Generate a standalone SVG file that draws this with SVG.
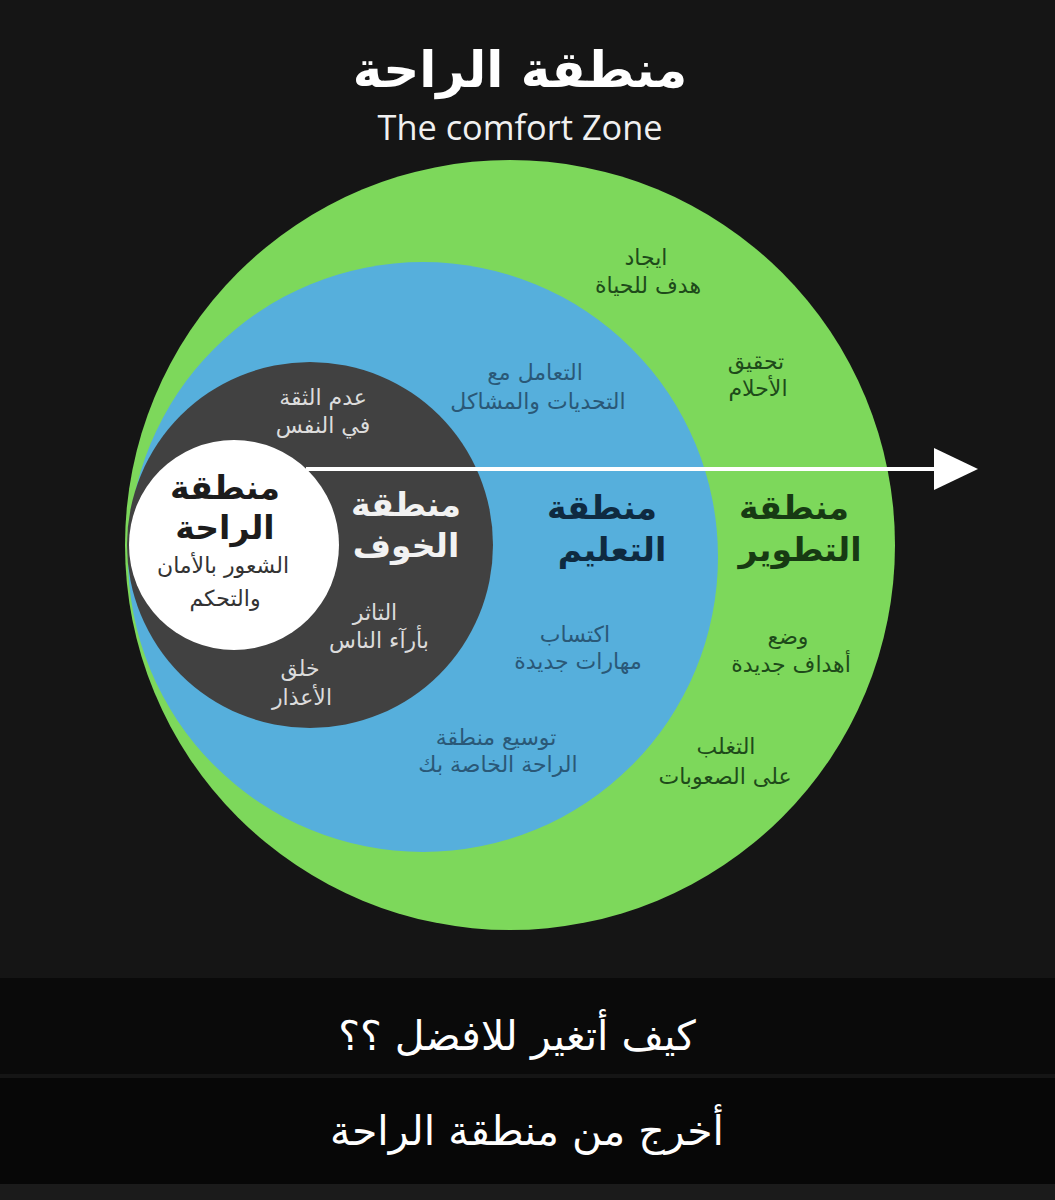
<svg xmlns="http://www.w3.org/2000/svg" width="1055" height="1200" viewBox="0 0 1055 1200">
<defs>
<style>
.ar{font-family:"DejaVu Sans",sans-serif;text-anchor:middle;direction:rtl}
.big{font-size:33px;font-weight:bold}
.sm{font-size:22px}
.gtxt{fill:#1e4a1a}
.gbig{fill:#173a13}
.btxt{fill:#2a5877}
.bbig{fill:#0f2a40}
.dtxt{fill:#dcdcdc}
.dbig{fill:#f2f2f2}
.wbig{fill:#1c1c1c}
.wtxt{fill:#333333}
</style>
<marker id="ah" viewBox="0 0 10 10" refX="0" refY="5" markerWidth="44" markerHeight="42" markerUnits="userSpaceOnUse" orient="auto" preserveAspectRatio="none">
<path d="M0,0 L10,5 L0,10 z" fill="#ffffff"/>
</marker>
</defs>
<rect x="0" y="0" width="1055" height="1200" fill="#151515"/>
<g id="title">
<text x="520" y="87" class="ar" font-size="50" font-weight="bold" fill="#ffffff">منطقة الراحة</text>
<text x="520" y="140" font-family="Open Sans, sans-serif" font-size="34" fill="#f0f0f0" text-anchor="middle" textLength="285" lengthAdjust="spacingAndGlyphs">The comfort Zone</text>
</g>
<g id="zone-growth">
<circle cx="510" cy="545" r="385" fill="#7dd85b"/>
<text x="794" y="519" class="ar big gbig">منطقة</text>
<text x="800" y="561" class="ar big gbig">التطوير</text>
<text x="646" y="265" class="ar sm gtxt">ايجاد</text>
<text x="648" y="293" class="ar sm gtxt">هدف للحياة</text>
<text x="756" y="369" class="ar sm gtxt">تحقيق</text>
<text x="758" y="396" class="ar sm gtxt">الأحلام</text>
<text x="788" y="644" class="ar sm gtxt">وضع</text>
<text x="791" y="672" class="ar sm gtxt">أهداف جديدة</text>
<text x="726" y="754" class="ar sm gtxt">التغلب</text>
<text x="725" y="784" class="ar sm gtxt">على الصعوبات</text>
</g>
<g id="zone-learning">
<circle cx="423" cy="557" r="295" fill="#56afdc"/>
<text x="602" y="519" class="ar big bbig">منطقة</text>
<text x="612" y="561" class="ar big bbig">التعليم</text>
<text x="535" y="380" class="ar sm btxt">التعامل مع</text>
<text x="538" y="409" class="ar sm btxt">التحديات والمشاكل</text>
<text x="575" y="642" class="ar sm btxt">اكتساب</text>
<text x="578" y="669" class="ar sm btxt">مهارات جديدة</text>
<text x="496" y="745" class="ar sm btxt">توسيع منطقة</text>
<text x="498" y="772" class="ar sm btxt">الراحة الخاصة بك</text>
</g>
<g id="zone-fear">
<circle cx="310" cy="545" r="183" fill="#414141"/>
<text x="406" y="516" class="ar big dbig">منطقة</text>
<text x="406" y="557" class="ar big dbig">الخوف</text>
<text x="323" y="405" class="ar sm dtxt">عدم الثقة</text>
<text x="323" y="433" class="ar sm dtxt">في النفس</text>
<text x="375" y="620" class="ar sm dtxt">التاثر</text>
<text x="379" y="648" class="ar sm dtxt">بأرآء الناس</text>
<text x="300" y="676" class="ar sm dtxt">خلق</text>
<text x="302" y="705" class="ar sm dtxt">الأعذار</text>
</g>
<g id="zone-comfort">
<circle cx="234" cy="545" r="105" fill="#ffffff"/>
<text x="225" y="499" class="ar big wbig">منطقة</text>
<text x="225" y="539" class="ar big wbig">الراحة</text>
<text x="223" y="573" class="ar sm wtxt">الشعور بالأمان</text>
<text x="225" y="606" class="ar sm wtxt">والتحكم</text>
</g>
<g id="connectors">
<line x1="306" y1="469" x2="934" y2="469" stroke="#ffffff" stroke-width="4" marker-end="url(#ah)"/>
</g>
<g id="footer">
<rect x="0" y="978" width="1055" height="96" fill="#0a0a0a"/>
<rect x="0" y="1078" width="1055" height="106" fill="#070707"/>
<rect x="0" y="1184" width="1055" height="16" fill="#1b1b1b"/>
<text x="517" y="1050" class="ar" font-size="41" fill="#ffffff">كيف أتغير للافضل ؟؟</text>
<text x="527" y="1145" class="ar" font-size="41" fill="#ffffff">أخرج من منطقة الراحة</text>
</g>
</svg>
